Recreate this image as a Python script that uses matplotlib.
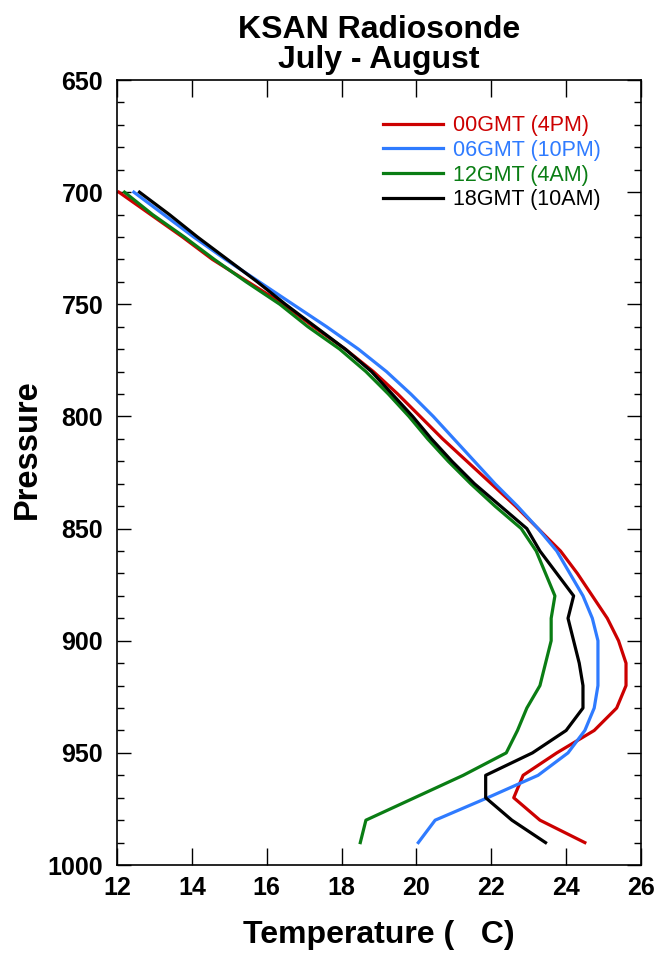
import matplotlib
matplotlib.use("Agg")
import matplotlib.pyplot as plt
from matplotlib.ticker import MultipleLocator

plt.rcParams['font.family'] = ['Liberation Sans', 'DejaVu Sans']

pressure = [700, 710, 720, 730, 740, 750, 760, 770, 780, 790,
            800, 810, 820, 830, 840, 850, 860, 870, 880, 890,
            900, 910, 920, 930, 940, 950, 960, 970, 980, 990]

t_00gmt = [12.05, 12.9, 13.75, 14.55, 15.5, 16.45, 17.25, 18.1, 18.85, 19.5,
           20.1, 20.7, 21.35, 22.0, 22.65, 23.25, 23.85, 24.3, 24.7, 25.1,
           25.4, 25.6, 25.6, 25.35, 24.75, 23.75, 22.85, 22.6, 23.3, 24.5]
t_06gmt = [12.45, 13.25, 14.05, 14.9, 15.8, 16.7, 17.6, 18.45, 19.2, 19.85,
           20.45, 21.0, 21.55, 22.1, 22.7, 23.25, 23.75, 24.1, 24.45, 24.7,
           24.85, 24.85, 24.85, 24.75, 24.5, 24.05, 23.25, 21.9, 20.5, 20.05]
t_12gmt = [12.2, 12.95, 13.8, 14.6, 15.45, 16.35, 17.1, 17.95, 18.65, 19.25,
           19.8, 20.3, 20.85, 21.45, 22.1, 22.8, 23.2, 23.45, 23.7, 23.6,
           23.6, 23.45, 23.3, 22.95, 22.7, 22.4, 21.25, 19.95, 18.65, 18.5]
t_18gmt = [12.6, 13.4, 14.15, 14.95, 15.75, 16.5, 17.3, 18.1, 18.8, 19.35,
           19.9, 20.4, 20.95, 21.55, 22.25, 22.95, 23.3, 23.75, 24.2, 24.05,
           24.2, 24.35, 24.45, 24.45, 24.0, 23.1, 21.85, 21.85, 22.55, 23.45]

labels = ['00GMT (4PM)', '06GMT (10PM)', '12GMT (4AM)', '18GMT (10AM)']
colors = ['#cc0000', '#2f7bff', '#0a7d14', '#000000']
series = [t_00gmt, t_06gmt, t_12gmt, t_18gmt]

x_ticks = [12, 14, 16, 18, 20, 22, 24, 26]
y_ticks = [650, 700, 750, 800, 850, 900, 950, 1000]

fig = plt.figure(figsize=(6.6, 9.57), dpi=100)
ax = fig.add_axes([0.1773, 0.0961, 0.7939, 0.8203])

for t, lab, c in zip(series, labels, colors):
    ax.plot(t, pressure, color=c, lw=2.3, label=lab)

ax.set_xlim(12, 26)
ax.set_ylim(1000, 650)
ax.set_xticks(x_ticks)
ax.set_yticks(y_ticks)
ax.yaxis.set_minor_locator(MultipleLocator(10))

ax.tick_params(axis='both', which='both', direction='in', top=True, right=True)
ax.tick_params(axis='y', which='major', length=10, width=1.0, pad=10, labelsize=18)
ax.tick_params(axis='y', which='minor', length=5, width=1.0)
ax.tick_params(axis='x', which='major', length=12, width=1.0, pad=8, labelsize=18)
for lbl in ax.get_xticklabels() + ax.get_yticklabels():
    lbl.set_fontweight('bold')
for s in ax.spines.values():
    s.set_linewidth(1.2)

ax.set_xlabel('Temperature (   C)', fontsize=23, fontweight='bold', labelpad=14)
ax.set_ylabel('Pressure', fontsize=23.5, fontweight='bold')
ax.yaxis.set_label_coords(-0.142, 0.53)
ax.set_title('KSAN Radiosonde\nJuly - August', fontsize=23, fontweight='bold', pad=9,
             linespacing=1.0)

leg = ax.legend(loc='upper left', bbox_to_anchor=(0.508, 0.955), frameon=False,
                fontsize=15.5, handlelength=2.8, handletextpad=0.45,
                labelspacing=0.17, borderpad=0, borderaxespad=0)
for txt, c in zip(leg.get_texts(), colors):
    txt.set_color(c)

fig.savefig('out.png', dpi=100)
